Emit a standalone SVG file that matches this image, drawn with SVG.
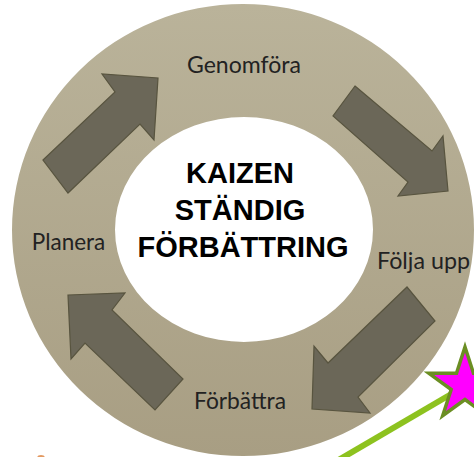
<svg xmlns="http://www.w3.org/2000/svg" width="474" height="457" viewBox="0 0 474 457">
<defs>
<linearGradient id="ringGrad" x1="0" y1="0" x2="0" y2="1">
<stop offset="0" stop-color="#bab39a"/>
<stop offset="1" stop-color="#a89e83"/>
</linearGradient>
<style>
.arrow{fill:#6b6758;stroke:#58543f;stroke-width:1.2;stroke-linejoin:miter}
.lbl{font-family:Lato,"Liberation Sans",Arial,sans-serif;font-size:23px;fill:#222222;text-anchor:middle}
.ctr{font-family:"Liberation Sans",Arial,sans-serif;font-size:29px;font-weight:bold;fill:#000;text-anchor:middle}
</style>
</defs>
<rect width="474" height="457" fill="#ffffff"/>
<g id="ring">
<path fill="url(#ringGrad)" fill-rule="evenodd" d="M12,230 A231,226 0 1,0 474,230 A231,226 0 1,0 12,230 Z M115,229.5 A129,112.5 0 1,0 373,229.5 A129,112.5 0 1,0 115,229.5 Z"/>
</g>
<g id="connectors">
<polygon class="arrow" points="43,160 115,92 102,74 158,78 154,140 140,124 68,193"/>
<polygon class="arrow" points="355,86 432,151 443,136 448,191 398,196 408,182 333,116"/>
<polygon class="arrow" points="407,287 435,321 358,397 370,413 312,409 314,346 328,363"/>
<polygon class="arrow" points="68,295 125,293 112,310 183,379 155,410 85,343 71,359"/>
</g>
<g id="center">
<text class="ctr" x="240" y="183">KAIZEN</text>
<text class="ctr" x="240" y="220">STÄNDIG</text>
<text class="ctr" x="243" y="256.5">FÖRBÄTTRING</text>
</g>
<g id="genomfora"><text class="lbl" x="244" y="72.5" textLength="114" lengthAdjust="spacingAndGlyphs">Genomföra</text></g>
<g id="folja-upp"><text class="lbl" x="423.5" y="268.5" textLength="93" lengthAdjust="spacingAndGlyphs">Följa upp</text></g>
<g id="forbattra"><text class="lbl" x="240" y="408.5" textLength="92" lengthAdjust="spacingAndGlyphs">Förbättra</text></g>
<g id="planera"><text class="lbl" x="68.5" y="249.5" textLength="73.5" lengthAdjust="spacingAndGlyphs">Planera</text></g>
<g id="star-marker">
<line x1="465" y1="386" x2="318" y2="472" stroke="#8dc21f" stroke-width="6"/>
<polygon fill="#ff00ff" stroke="#6b8e23" stroke-width="3.5" stroke-linejoin="miter" points="465,347 473.5,373.3 501.1,373.3 478.8,389.5 487.3,415.7 465,399.5 442.7,415.7 451.2,389.5 428.9,373.3 456.5,373.3"/>
</g>
<g id="corner-mark">
<ellipse cx="41" cy="458" rx="4" ry="3" fill="#e39a62"/>
</g>
</svg>
